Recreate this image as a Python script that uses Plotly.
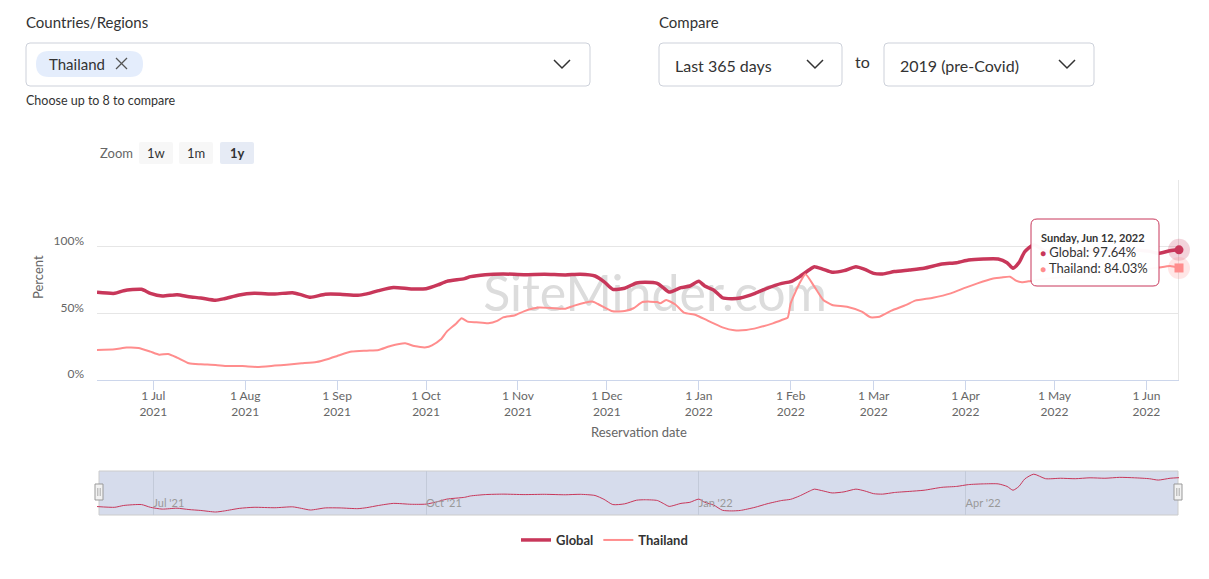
import plotly.graph_objects as go

# ---------------- data ----------------
global_dates = ["2021-06-12","2021-06-18","2021-06-21","2021-06-27","2021-06-30","2021-07-04","2021-07-09","2021-07-13","2021-07-17","2021-07-22","2021-07-25","2021-07-30","2021-08-04","2021-08-11","2021-08-17","2021-08-20","2021-08-23","2021-08-28","2021-09-02","2021-09-08","2021-09-11","2021-09-15","2021-09-20","2021-09-26","2021-10-01","2021-10-05","2021-10-08","2021-10-14","2021-10-16","2021-10-21","2021-10-27","2021-11-03","2021-11-10","2021-11-17","2021-11-22","2021-11-27","2021-11-30","2021-12-03","2021-12-07","2021-12-11","2021-12-14","2021-12-18","2021-12-20","2021-12-22","2021-12-26","2021-12-29","2022-01-01","2022-01-03","2022-01-06","2022-01-09","2022-01-12","2022-01-15","2022-01-20","2022-01-24","2022-01-29","2022-02-01","2022-02-04","2022-02-08","2022-02-09","2022-02-12","2022-02-15","2022-02-19","2022-02-23","2022-02-26","2022-03-01","2022-03-04","2022-03-08","2022-03-13","2022-03-18","2022-03-24","2022-03-29","2022-04-02","2022-04-07","2022-04-12","2022-04-15","2022-04-17","2022-04-19","2022-04-21","2022-04-24","2022-04-28","2022-05-03","2022-05-08","2022-05-13","2022-05-18","2022-05-23","2022-05-28","2022-06-02","2022-06-05","2022-06-09","2022-06-12"]
global_vals = [65.8,65.0,67.0,68.0,65.0,63.0,64.0,62.5,61.5,59.8,61.0,63.8,65.0,64.5,65.5,63.8,62.0,64.3,64.3,63.5,64.6,67.0,69.3,68.3,68.5,71.3,74.0,76.0,77.5,79.0,79.5,79.0,79.3,78.8,79.3,78.0,73.8,68.0,68.8,72.8,73.3,72.5,69.3,66.0,69.3,70.5,74.0,70.5,67.5,61.7,61.0,61.5,65.0,68.8,72.5,73.8,77.5,83.8,85.0,83.0,80.8,82.0,85.0,83.0,80.0,79.5,81.3,82.5,83.8,87.0,88.0,90.0,90.8,90.8,88.0,83.8,88.0,96.3,101.5,96.5,97.0,96.5,97.5,97.0,98.0,97.5,96.5,95.0,97.0,97.64]

thai_dates = ["2021-06-12","2021-06-18","2021-06-22","2021-06-26","2021-06-30","2021-07-03","2021-07-06","2021-07-09","2021-07-13","2021-07-17","2021-07-22","2021-07-26","2021-07-31","2021-08-05","2021-08-11","2021-08-15","2021-08-20","2021-08-25","2021-08-29","2021-09-02","2021-09-06","2021-09-11","2021-09-15","2021-09-19","2021-09-24","2021-09-27","2021-10-01","2021-10-03","2021-10-06","2021-10-08","2021-10-11","2021-10-13","2021-10-15","2021-10-18","2021-10-22","2021-10-25","2021-10-27","2021-10-31","2021-11-03","2021-11-08","2021-11-12","2021-11-17","2021-11-20","2021-11-26","2021-11-28","2021-12-03","2021-12-07","2021-12-10","2021-12-13","2021-12-18","2021-12-19","2021-12-21","2021-12-24","2021-12-27","2021-12-31","2022-01-04","2022-01-09","2022-01-13","2022-01-17","2022-01-21","2022-01-26","2022-01-29","2022-01-31","2022-02-01","2022-02-04","2022-02-06","2022-02-09","2022-02-12","2022-02-15","2022-02-20","2022-02-25","2022-02-28","2022-03-03","2022-03-07","2022-03-12","2022-03-15","2022-03-21","2022-03-27","2022-04-01","2022-04-05","2022-04-10","2022-04-13","2022-04-16","2022-04-18","2022-04-20","2022-04-23","2022-04-28","2022-05-03","2022-05-08","2022-05-13","2022-05-18","2022-05-23","2022-05-28","2022-06-02","2022-06-05","2022-06-09","2022-06-12"]
thai_vals = [22.5,23.0,24.3,24.0,21.3,19.0,19.5,16.8,12.5,11.8,11.3,10.5,10.5,9.8,10.8,11.5,12.5,13.5,15.8,18.8,21.3,22.0,22.5,25.5,27.5,25.5,24.5,26.0,30.5,36.3,42.0,46.3,43.8,43.3,42.5,44.3,47.0,48.5,51.5,54.3,54.0,53.5,55.8,58.8,57.0,51.5,51.8,53.8,58.5,58.5,57.5,60.0,56.8,50.5,48.8,44.5,39.5,37.3,37.5,39.3,42.5,45.0,46.8,57.5,72.5,79.3,70.0,60.0,56.3,55.0,51.3,47.0,47.5,52.0,56.3,59.5,61.7,65.0,69.3,72.5,76.0,76.8,77.5,74.5,73.3,74.3,76.0,77.0,79.0,80.0,81.0,82.0,83.0,83.5,84.3,85.5,84.03]

series_names = ["Global", "Thailand"]
month_ticks = ["2021-07-01","2021-08-01","2021-09-01","2021-10-01","2021-11-01","2021-12-01","2022-01-01","2022-02-01","2022-03-01","2022-04-01","2022-05-01","2022-06-01"]
month_labels = ["1 Jul<br>2021","1 Aug<br>2021","1 Sep<br>2021","1 Oct<br>2021","1 Nov<br>2021","1 Dec<br>2021","1 Jan<br>2022","1 Feb<br>2022","1 Mar<br>2022","1 Apr<br>2022","1 May<br>2022","1 Jun<br>2022"]
nav_ticks = ["2021-07-01","2021-10-01","2022-01-01","2022-04-01"]
nav_labels = ["Jul '21","Oct '21","Jan '22","Apr '22"]
y_ticks = [0, 50, 100, 150]
y_labels = ["0%", "50%", "100%", ""]
x_range = ["2021-06-12", "2022-06-12"]
tooltip_header = "Sunday, Jun 12, 2022"

# ---------------- style ----------------
W, H = 1209, 579
FONT = "Lato"
C_GLOBAL = "#c8375a"
C_THAI = "#ff8d8d"
TXT = "#333333"
AX = "#666666"


def X(px):
    return px / W


def Y(py):
    return 1 - py / H


def rrect(x0, y0, x1, y1, r):
    return (f"M{X(x0+r)},{Y(y0)} L{X(x1-r)},{Y(y0)} Q{X(x1)},{Y(y0)} {X(x1)},{Y(y0+r)} "
            f"L{X(x1)},{Y(y1-r)} Q{X(x1)},{Y(y1)} {X(x1-r)},{Y(y1)} "
            f"L{X(x0+r)},{Y(y1)} Q{X(x0)},{Y(y1)} {X(x0)},{Y(y1-r)} "
            f"L{X(x0)},{Y(y0+r)} Q{X(x0)},{Y(y0)} {X(x0+r)},{Y(y0)} Z")


def poly(points):
    return "M" + " L".join(f"{X(a)},{Y(b)}" for a, b in points)


fig = go.Figure()

# main series
fig.add_trace(go.Scatter(x=global_dates, y=global_vals, name=series_names[0], mode="lines",
                         line=dict(color=C_GLOBAL, width=3.5, shape="spline", smoothing=0.6),
                         xaxis="x", yaxis="y"))
fig.add_trace(go.Scatter(x=thai_dates, y=thai_vals, name=series_names[1], mode="lines",
                         line=dict(color=C_THAI, width=2, shape="spline", smoothing=0.5),
                         xaxis="x", yaxis="y"))
# hover halo + markers at last point
fig.add_trace(go.Scatter(x=[global_dates[-1]], y=[global_vals[-1]], mode="markers", showlegend=False,
                         marker=dict(size=22, color="rgba(200,55,90,0.22)"), cliponaxis=False, hoverinfo="skip"))
fig.add_trace(go.Scatter(x=[thai_dates[-1]], y=[thai_vals[-1]], mode="markers", showlegend=False,
                         marker=dict(size=22, color="rgba(255,141,141,0.22)"), cliponaxis=False, hoverinfo="skip"))
fig.add_trace(go.Scatter(x=[global_dates[-1]], y=[global_vals[-1]], mode="markers", showlegend=False,
                         marker=dict(size=9, color=C_GLOBAL, symbol="circle"), cliponaxis=False, hoverinfo="skip"))
fig.add_trace(go.Scatter(x=[thai_dates[-1]], y=[thai_vals[-1]], mode="markers", showlegend=False,
                         marker=dict(size=9, color=C_THAI, symbol="square"), cliponaxis=False, hoverinfo="skip"))
# navigator series
fig.add_trace(go.Scatter(x=global_dates, y=global_vals, mode="lines", showlegend=False,
                         line=dict(color=C_GLOBAL, width=1, shape="spline", smoothing=0.6),
                         xaxis="x2", yaxis="y2", hoverinfo="skip"))

shapes = []
ann = []

# ---------- top UI controls ----------
def label(x, y, text, size, color=TXT, xanchor="left", weight="normal", **kw):
    ann.append(dict(x=X(x), y=Y(y), xref="paper", yref="paper", text=text, showarrow=False,
                    xanchor=xanchor, yanchor="middle", font=dict(family=FONT, size=size, color=color, weight=weight), **kw))

label(24, 22, "Countries/Regions", 15)
shapes.append(dict(type="path", path=rrect(26, 43, 590, 86, 4), xref="paper", yref="paper",
                   line=dict(color="#cdd1da", width=1), fillcolor="white"))
shapes.append(dict(type="path", path=rrect(36, 51, 143, 77, 13), xref="paper", yref="paper",
                   line=dict(width=0), fillcolor="#e4edfc"))
label(47, 64, "Thailand", 15)
shapes.append(dict(type="line", x0=X(116), y0=Y(58), x1=X(127), y1=Y(69), xref="paper", yref="paper",
                   line=dict(color="#555", width=1.3)))
shapes.append(dict(type="line", x0=X(116), y0=Y(69), x1=X(127), y1=Y(58), xref="paper", yref="paper",
                   line=dict(color="#555", width=1.3)))
label(24, 100, "Choose up to 8 to compare", 12.5)

label(657, 22, "Compare", 15)
shapes.append(dict(type="path", path=rrect(659, 43, 842, 86, 4), xref="paper", yref="paper",
                   line=dict(color="#cdd1da", width=1), fillcolor="white"))
label(673, 65, "Last 365 days", 16)
label(853, 62, "to", 16)
shapes.append(dict(type="path", path=rrect(884, 43, 1094, 86, 4), xref="paper", yref="paper",
                   line=dict(color="#cdd1da", width=1), fillcolor="white"))
label(898, 65, "2019 (pre-Covid)", 16)
for cx in (562, 815, 1067):
    shapes.append(dict(type="path", path=poly([(cx - 8, 60), (cx, 68), (cx + 8, 60)]), xref="paper", yref="paper",
                       line=dict(color="#333", width=1.5), fillcolor="rgba(0,0,0,0)"))

# ---------- zoom buttons ----------
label(98, 153, "Zoom", 13, color=AX)
for (x0, x1, t, bg, wt) in [(139, 173, "1w", "#f7f7f7", "normal"), (179, 213, "1m", "#f7f7f7", "normal"),
                            (220, 254, "1y", "#e6ebf5", "bold")]:
    shapes.append(dict(type="path", path=rrect(x0, 142, x1, 164, 2), xref="paper", yref="paper",
                       line=dict(width=0), fillcolor=bg))
    label((x0 + x1) / 2, 153, t, 13, color=TXT, xanchor="center", weight=wt)

# ---------- axis labels ----------
label(38, 277, "Percent", 13, color=AX, xanchor="center", textangle=-90)
label(639, 432, "Reservation date", 13, color=AX, xanchor="center")

# watermark (below traces)
shapes.append(dict(type="rect", x0=X(460), x1=X(850), y0=Y(311), y1=Y(271), xref="paper", yref="paper",
                   layer="below", line=dict(width=0), fillcolor="rgba(0,0,0,0)",
                   label=dict(text="SiteMinder.com", font=dict(family=FONT, size=50, color="#dcdcdc", weight=400),
                              textposition="middle center")))

# crosshair at hovered point
shapes.append(dict(type="line", xref="x", yref="y", x0=global_dates[-1], x1=global_dates[-1], y0=0, y1=150,
                   line=dict(color="#cccccc", width=1), layer="below"))

# ---------- tooltip ----------
shapes.append(dict(type="path", path=rrect(1031, 219, 1159, 286, 6), xref="paper", yref="paper",
                   line=dict(color=C_GLOBAL, width=1), fillcolor="rgba(255,255,255,0.97)", layer="above"))
label(1039, 237, f"<b>{tooltip_header}</b>", 11)
label(1038, 252, f"<span style='color:{C_GLOBAL};font-size:10px'>●</span> {series_names[0]}: {global_vals[-1]:.2f}%", 13)
label(1038, 268, f"<span style='color:{C_THAI};font-size:10px'>●</span> {series_names[1]}: {thai_vals[-1]:.2f}%", 13)

# ---------- navigator ----------
shapes.append(dict(type="rect", x0=X(99), x1=X(1178), y0=Y(515), y1=Y(471), xref="paper", yref="paper",
                   layer="below", line=dict(color="#cccccc", width=1), fillcolor="#d6dcec"))
for hx in (99, 1178):
    shapes.append(dict(type="rect", x0=X(hx - 4), x1=X(hx + 4), y0=Y(500), y1=Y(484), xref="paper", yref="paper",
                       line=dict(color="#999999", width=1), fillcolor="#f2f2f2", layer="above"))
    for dx in (-1.2, 1.2):
        shapes.append(dict(type="line", x0=X(hx + dx), x1=X(hx + dx), y0=Y(496), y1=Y(488), xref="paper",
                           yref="paper", line=dict(color="#999999", width=0.8), layer="above"))

fig.update_layout(
    width=W, height=H, margin=dict(l=0, r=0, t=0, b=0, autoexpand=False),
    paper_bgcolor="white", plot_bgcolor="rgba(0,0,0,0)",
    font=dict(family=FONT, color=TXT),
    hovermode=False,
    showlegend=True,
    legend=dict(orientation="h", x=0.5, xanchor="center", y=Y(540), yanchor="middle",
                font=dict(family=FONT, size=13, color=TXT, weight="bold"), itemwidth=30,
                bgcolor="rgba(0,0,0,0)"),
    xaxis=dict(domain=[X(97), X(1179)], range=x_range, type="date", anchor="y", automargin=False,
               tickvals=month_ticks, ticktext=month_labels, ticks="outside", ticklen=9,
               ticklabelstandoff=-4,
               tickcolor="#ccd6eb", showline=True, linecolor="#ccd6eb", linewidth=1,
               showgrid=False, zeroline=False, tickfont=dict(family=FONT, size=12, color=AX)),
    yaxis=dict(domain=[Y(380), Y(180)], range=[0, 150], anchor="x", automargin=False,
               tickvals=y_ticks, ticktext=y_labels, showgrid=True, gridcolor="#e6e6e6",
               zeroline=False, showline=False, ticks="", ticklabelshift=-6, ticklabelstandoff=12,
               tickfont=dict(family=FONT, size=12, color=AX)),
    xaxis2=dict(domain=[X(97), X(1179)], range=x_range, type="date", anchor="y2", automargin=False,
                tickvals=nav_ticks, ticktext=nav_labels, ticks="", showgrid=True, gridcolor="#c3cad9",
                showline=False, zeroline=False, ticklabelposition="inside right",
                tickfont=dict(family=FONT, size=11, color="#999999")),
    yaxis2=dict(domain=[Y(515), Y(471)], range=[56.5, 105], anchor="x2", automargin=False,
                showgrid=False, zeroline=False, showticklabels=False, ticks=""),
    shapes=shapes, annotations=ann,
)

fig.write_html("out.html", config={"displayModeBar": False},
               post_script="document.body.style.margin='0';document.body.style.overflow='hidden';")
